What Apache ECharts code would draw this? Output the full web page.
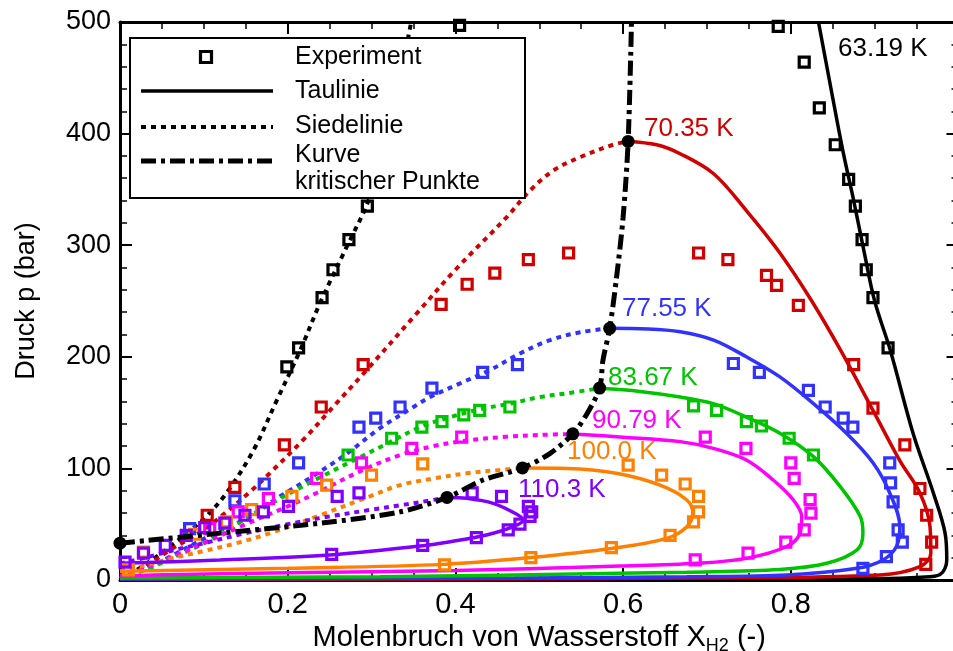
<!DOCTYPE html>
<html><head><meta charset="utf-8">
<script src="https://cdn.jsdelivr.net/npm/echarts@6/dist/echarts.min.js"></script>
<style>html,body{margin:0;padding:0;background:#fff}#c{width:953px;height:651px}</style>
</head><body><div id="c"></div>
<script>
// ---------- data (x = Molenbruch H2, p = bar) ----------
const dew63 = [[0.833,500],[0.848,440],[0.862,385],[0.875,340],[0.888,292],[0.900,250],[0.919,205],[0.946,131],[0.970,78],[0.984,42],[0.986,18],[0.978,5],[0.955,2.5],[0.9,1.3],[0.6,0.6],[0.3,0.3],[0,0.13]];
const bub63 = [[0,0.13],[0.02,9],[0.04,19],[0.06,30],[0.08,42],[0.103,57],[0.127,78],[0.159,116],[0.187,161],[0.215,206],[0.239,249],[0.27,298],[0.298,343],[0.32,400],[0.346,495],[0.348,505]];
const exp63 = [[0.199,191],[0.213,208],[0.241,253],[0.254,278],[0.273,305],[0.295,335],[0.405,497],[0.785,496],[0.816,464],[0.834,423],[0.853,390],[0.869,359],[0.877,335],[0.885,305],[0.890,278],[0.898,253],[0.916,208]];

const dew70 = [[0.606,393],[0.64,390],[0.668,382],[0.708,364],[0.747,331],[0.787,293],[0.825,250],[0.86,205],[0.898,152],[0.930,107],[0.954,78],[0.966,48],[0.967,24],[0.954,12],[0.906,4.5],[0.7,1.8],[0.4,0.9],[0,0.4]];
const bub70 = [[0,0.4],[0.03,12],[0.06,27],[0.1,45],[0.127,61],[0.155,79],[0.179,96],[0.219,126],[0.254,155],[0.294,188],[0.354,239],[0.40,278],[0.461,325],[0.489,349],[0.517,367],[0.549,379],[0.588,390],[0.606,393]];
const exp70 = [[0.104,58],[0.137,83],[0.196,121],[0.24,155],[0.29,193],[0.383,247],[0.414,265],[0.447,275],[0.487,287],[0.535,293],[0.690,293],[0.725,287],[0.771,273],[0.783,264],[0.809,246],[0.875,193],[0.898,154],[0.936,121],[0.954,82],[0.962,58],[0.968,34],[0.961,14]];

const dew77 = [[0.584,225.5],[0.63,225],[0.668,222.5],[0.708,215],[0.747,200],[0.787,182],[0.827,158],[0.867,131],[0.898,105],[0.918,78],[0.930,48],[0.926,30],[0.910,18],[0.879,10.5],[0.795,4.5],[0.676,3],[0.47,1.8],[0,1]];
const bub77 = [[0,1],[0.03,10],[0.06,21],[0.1,37],[0.15,55],[0.191,75],[0.23,93],[0.27,113],[0.31,136],[0.35,155],[0.37,164],[0.405,176],[0.441,188],[0.477,203],[0.513,215],[0.549,222],[0.584,225.5]];
const exp77 = [[0.083,46],[0.137,71],[0.172,86],[0.213,105],[0.285,137],[0.305,145],[0.334,155],[0.372,172],[0.4325,186],[0.474,193],[0.7315,194],[0.7625,186],[0.821,170],[0.841,155],[0.8625,145],[0.874,137],[0.918,105],[0.919,87],[0.922,70],[0.928,45],[0.933,34],[0.914,21],[0.886,10.5]];

const dew83 = [[0.572,171.8],[0.62,169],[0.668,164],[0.7075,158],[0.747,146],[0.787,131.5],[0.827,110.5],[0.859,83.6],[0.883,56.7],[0.886,42],[0.879,27],[0.843,15],[0.787,9.5],[0.676,7],[0.596,6],[0.31,3],[0,1.9]];
const bub83 = [[0,1.9],[0.03,9],[0.06,19],[0.1,33],[0.139,50],[0.179,68],[0.2385,92],[0.278,107],[0.318,122],[0.358,137],[0.394,146],[0.429,153],[0.465,158],[0.501,164],[0.533,167.3],[0.572,171.8]];
const exp83 = [[0.272,112],[0.324,127],[0.36,137],[0.384,142],[0.41,148],[0.429,152],[0.465,155],[0.684,156],[0.7115,152],[0.747,142],[0.765,138],[0.798,127],[0.827,112]];

const dew90 = [[0.54,130.8],[0.6,128],[0.668,124],[0.7075,118],[0.747,107.5],[0.779,89.6],[0.803,71.7],[0.813,56.7],[0.811,42],[0.795,30],[0.747,19.4],[0.688,15],[0.596,12.5],[0.4,8.5],[0.2,6.5],[0.04,4.5],[0,3.6]];
const bub90 = [[0,3.6],[0.03,11],[0.06,20],[0.1,33],[0.15,50],[0.2,66],[0.2345,78],[0.288,98],[0.334,112],[0.374,120],[0.4135,125],[0.461,128.4],[0.501,130],[0.54,130.8]];
const exp90 = [[0.107,46],[0.141,61],[0.177,73],[0.2345,91],[0.288,105],[0.348,118],[0.4075,128],[0.698,128],[0.7465,118],[0.80,105],[0.804,91],[0.823,72],[0.824,60],[0.816,45],[0.794,34],[0.749,24],[0.686,18]];

const dew100 = [[0.48,100.4],[0.533,100],[0.592,95.6],[0.644,85],[0.676,71.7],[0.683,60],[0.676,47.8],[0.652,37.3],[0.588,28.4],[0.493,20.3],[0.386,14],[0.2,10.5],[0,7.8]];
const bub100 = [[0,7.8],[0.03,13],[0.06,19],[0.1,26],[0.139,33],[0.179,42],[0.2385,58],[0.298,75],[0.334,85],[0.374,91],[0.4135,95.6],[0.453,98.6],[0.48,100.4]];
const exp100 = [[0.01,9],[0.028,25],[0.089,41],[0.127,52],[0.157,63],[0.205,75],[0.2465,85],[0.300,94],[0.361,104],[0.606,103],[0.646,94],[0.674,86],[0.69,75],[0.69,61],[0.684,52],[0.656,40],[0.586,29],[0.490,20],[0.387,13.5]];

const dew110 = [[0.39,74],[0.4135,73.2],[0.445,68.7],[0.471,59.8],[0.481,53.8],[0.469,47.8],[0.437,40.3],[0.394,34.3],[0.358,30.5],[0.25,22.4],[0.119,17.9],[0,15]];
const bub110 = [[0,14.7],[0.03,20],[0.06,26],[0.1,33],[0.15,42],[0.2,50],[0.25,57],[0.3,63],[0.334,67],[0.36,70],[0.39,74]];
const exp110 = [[0.006,16],[0.028,24],[0.054,31],[0.079,40],[0.101,47],[0.125,51],[0.149,58],[0.171,61],[0.201,66],[0.259,75],[0.285,78],[0.42,78],[0.455,75],[0.487,66],[0.491,61],[0.489,57],[0.477,50],[0.463,45],[0.425,38],[0.361,31],[0.2525,23]];

const critCurve = [[0,33],[0.12,42],[0.24,51],[0.334,61],[0.39,74],[0.433,89.6],[0.48,100.4],[0.513,113.5],[0.54,131],[0.557,149],[0.572,172],[0.576,197],[0.584,225.5],[0.592,270],[0.6,325],[0.606,393],[0.61,500]];
const critPoints = [[0,33],[0.39,74],[0.48,100.4],[0.54,131],[0.572,172],[0.584,225.5],[0.606,393]];

const temps = ['63.19 K','70.35 K','77.55 K','83.67 K','90.79 K','100.0 K','110.3 K'];
const xTicks = [0,0.2,0.4,0.6,0.8];
const yTicks = [0,100,200,300,400,500];

// ---------- styling / layout ----------
const colors = ['#000000','#d10000','#3232ff','#00c400','#ff00ff','#ff8000','#8000ff'];
const dews = [dew63,dew70,dew77,dew83,dew90,dew100,dew110];
const bubs = [bub63,bub70,bub77,bub83,bub90,bub100,bub110];
const exps = [exp63,exp70,exp77,exp83,exp90,exp100,exp110];
// label anchors in pixels (left, vertical centre)
const labelPos = [[838,49],[644,129],[622,309],[608,378],[592,421],[567,452],[518,490]];

const FONT = 'Liberation Sans, Arial, Helvetica, sans-serif';

const series = [];
for (let i = 0; i < 7; i++) {
  series.push({type:'line', data:bubs[i], smooth:0.35, symbol:'none', silent:true,
    lineStyle:{color:colors[i], width:4, type:[5,5], cap:'butt'}, z:2});
  series.push({type:'line', data:dews[i], smooth:0.35, symbol:'none', silent:true,
    lineStyle:{color:colors[i], width:3.5}, z:2});
}
for (let i = 0; i < 7; i++) {
  series.push({type:'scatter', data:exps[i], symbol:'rect', symbolSize:10, silent:true,
    itemStyle:{color:'rgba(0,0,0,0)', borderColor:colors[i], borderWidth:3.2, opacity:1}, z:3});
}
series.push({type:'line', data:critCurve, smooth:0.3, symbol:'none', silent:true,
  lineStyle:{color:'#000', width:5, type:[15,5,4,5], cap:'butt'}, z:4});
series.push({type:'scatter', data:critPoints, symbol:'circle', symbolSize:13, silent:true,
  itemStyle:{color:'#000', opacity:1}, z:5});

const graphic = [
  {type:'rect', z:100, shape:{x:130,y:38,width:395,height:160}, style:{fill:'#fff', stroke:'#000', lineWidth:2}},
  {type:'rect', z:101, shape:{x:200.5,y:51.5,width:11,height:11}, style:{fill:'none', stroke:'#000', lineWidth:3.2}},
  {type:'line', z:101, shape:{x1:141,y1:91,x2:273,y2:91}, style:{stroke:'#000', lineWidth:3.5}},
  {type:'line', z:101, shape:{x1:141,y1:127,x2:273,y2:127}, style:{stroke:'#000', lineWidth:4, lineDash:[5,5], lineCap:'butt'}},
  {type:'line', z:101, shape:{x1:141,y1:161,x2:273,y2:161}, style:{stroke:'#000', lineWidth:5, lineDash:[15,5,4,5], lineCap:'butt'}},
];
const legTexts = [['Experiment',57],['Taulinie',91],['Siedelinie',126],['Kurve',155],['kritischer Punkte',182]];
legTexts.forEach(t => graphic.push({type:'text', z:101, x:295, y:t[1],
  style:{text:t[0], fontSize:25, fontFamily:FONT, fill:'#000', verticalAlign:'middle', align:'left'}}));
temps.forEach((t,i) => graphic.push({type:'text', z:50, x:labelPos[i][0], y:labelPos[i][1],
  style:{text:t, fontSize:26, fontFamily:FONT, fill:colors[i], verticalAlign:'middle', align:'left'}}));

const tickCommon = {
  axisLine:{show:true, onZero:false, lineStyle:{color:'#000', width:3}},
  axisTick:{show:true, inside:true, length:12, lineStyle:{color:'#000', width:2}},
  splitLine:{show:false}
};
const minorX = {minorTick:{show:true, splitNumber:4, length:7, lineStyle:{color:'#000', width:1.5}}};
const minorY = {minorTick:{show:true, splitNumber:5, length:7, lineStyle:{color:'#000', width:1.5}}};

const option = {
  animation:false,
  backgroundColor:'#fff',
  grid:{left:120, top:22, width:838.5, height:558, containLabel:false, outerBoundsMode:'none'},
  xAxis:[
    Object.assign({type:'value', position:'bottom', min:0, max:1, interval:0.2,
      name:'{a|Molenbruch von Wasserstoff X}{s|H2}{a| (-)}', nameLocation:'middle', nameGap:36,
      nameTextStyle:{rich:{a:{fontSize:29, fontFamily:FONT, color:'#000'}, s:{fontSize:18, fontFamily:FONT, color:'#000', padding:[15,0,0,0]}}},
      axisLabel:{fontSize:29, fontFamily:FONT, color:'#000', margin:10, alignMinLabel:'center', alignMaxLabel:'center',
        formatter: v => (xTicks.indexOf(+v.toFixed(1)) < 0 ? '' : (v === 0 ? '0' : v.toFixed(1)))}},
      tickCommon, minorX),
    Object.assign({type:'value', position:'top', min:0, max:1, interval:0.2, axisLabel:{show:false}},
      tickCommon, minorX)
  ],
  yAxis:[
    Object.assign({type:'value', position:'left', min:0, max:500, interval:100,
      name:'Druck p (bar)', nameLocation:'middle', nameGap:80, nameRotate:90,
      nameTextStyle:{fontSize:27, fontFamily:FONT, color:'#000'},
      axisLabel:{fontSize:27, fontFamily:FONT, color:'#000', margin:9,
        verticalAlignMinLabel:'middle', verticalAlignMaxLabel:'middle',
        formatter: v => (yTicks.indexOf(v) < 0 ? '' : String(v))}},
      tickCommon, minorY),
    Object.assign({type:'value', position:'right', min:0, max:500, interval:100, axisLabel:{show:false}},
      tickCommon, minorY)
  ],
  series: series,
  graphic: graphic
};
const chart = echarts.init(document.getElementById('c'), null, {renderer:'canvas'});
chart.setOption(option);
</script></body></html>
